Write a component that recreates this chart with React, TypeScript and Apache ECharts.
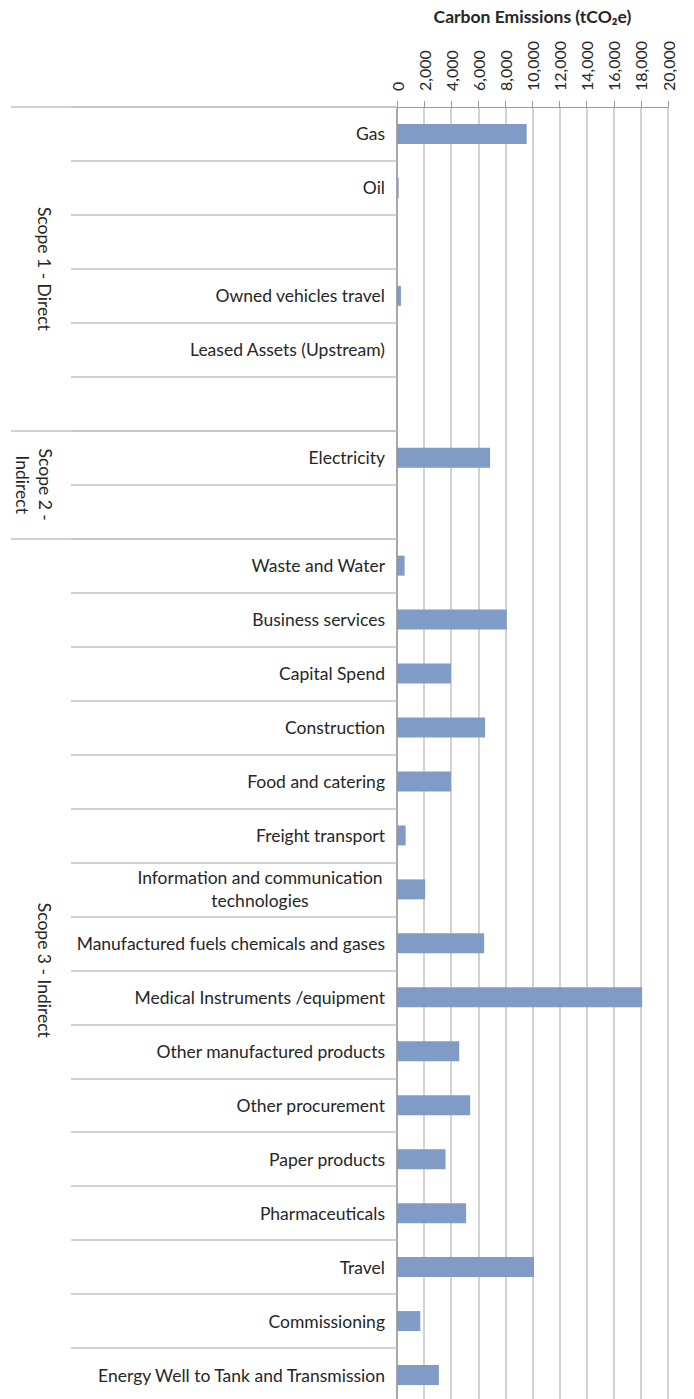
import React, { useEffect, useRef } from "react";
import * as echarts from "echarts";

const categories: string[] = [
  "Gas",
  "Oil",
  "",
  "Owned vehicles travel",
  "Leased Assets (Upstream)",
  "",
  "Electricity",
  "",
  "Waste and Water",
  "Business services",
  "Capital Spend",
  "Construction",
  "Food and catering",
  "Freight transport",
  "Information and communication\ntechnologies",
  "Manufactured fuels chemicals and gases",
  "Medical Instruments /equipment",
  "Other manufactured products",
  "Other procurement",
  "Paper products",
  "Pharmaceuticals",
  "Travel",
  "Commissioning",
  "Energy Well to Tank and Transmission",
];

const emissions: (number | null)[] = [
  9570, 120, null, 290, null, null, 6870, null, 560, 8100, 3980, 6500, 3980,
  640, 2080, 6430, 18090, 4590, 5400, 3580, 5100, 10110, 1720, 3090,
];

const groupNames: string[] = ["Scope 1 - Direct", "Scope 2 -\nIndirect", "Scope 3 - Indirect"];
const groupStarts: number[] = [0, 6, 8];
const groupSizes: number[] = [6, 2, 16];

const xTicks = { min: 0, max: 20000, interval: 2000 };
const axisTitle = "Carbon Emissions (tCO\u2082e)";

const FONT = "Lato, 'Open Sans', sans-serif";
const TEXT = "#262626";
const GRID = "#c3c3c3";
const AXIS = "#9a9a9a";
const FS = 17.5;

export default function App() {
  const ref = useRef<HTMLDivElement>(null);
  useEffect(() => {
    if (!ref.current) return;
    const chart = echarts.init(ref.current, undefined, { renderer: "svg" });
    const fmt = (v: number) => v.toLocaleString("en-US");
    chart.setOption({
      animation: false,
      grid: {
        left: 397,
        top: 107,
        width: 271,
        height: 1295,
        containLabel: false,
        outerBoundsMode: "none",
      },
      xAxis: {
        type: "value",
        position: "top",
        min: xTicks.min,
        max: xTicks.max,
        interval: xTicks.interval,
        name: axisTitle,
        nameLocation: "middle",
        nameGap: 82,
        nameTextStyle: { fontFamily: FONT, fontWeight: "bold", fontSize: 17.5, color: TEXT },
        axisLine: { show: true, lineStyle: { color: AXIS, width: 1 } },
        axisTick: { show: true, length: 6, lineStyle: { color: AXIS } },
        axisLabel: {
          rotate: -90,
          margin: 16,
          fontFamily: FONT,
          fontSize: 16,
          color: TEXT,
          formatter: (v: number) => fmt(v),
        },
        splitLine: { show: true, lineStyle: { color: GRID, width: 1.5 } },
      },
      yAxis: [
        {
          type: "category",
          inverse: true,
          data: categories,
          axisLine: { show: true, lineStyle: { color: AXIS, width: 1.5 } },
          axisTick: { show: true, length: 326, lineStyle: { color: GRID, width: 1.5 } },
          axisLabel: {
            interval: 0,
            margin: 12,
            fontFamily: FONT,
            fontSize: FS,
            color: TEXT,
            lineHeight: 23,
            formatter: (v: string) =>
              v.includes("\n")
                ? v
                    .split("\n")
                    .map((s) => "{c|" + s + "}")
                    .join("\n")
                : v,
            rich: {
              c: {
                width: 250,
                align: "center",
                fontFamily: FONT,
                fontSize: FS,
                color: TEXT,
                lineHeight: 23,
              },
            },
          },
          splitLine: { show: false },
        },
        {
          type: "category",
          inverse: true,
          data: categories,
          position: "left",
          axisLine: { show: false },
          axisLabel: { show: false },
          axisTick: {
            show: true,
            length: 386,
            interval: (i: number) => groupStarts.includes(i),
            lineStyle: { color: GRID, width: 1.5 },
          },
          splitLine: { show: false },
        },
      ],
      series: [
        {
          type: "bar",
          data: emissions,
          barWidth: "37%",
          itemStyle: { color: "#7f9bc6" },
          yAxisIndex: 0,
        },
      ],
    });

    const graphics = groupNames.map((name, g) => {
      const first = chart.convertToPixel({ yAxisIndex: 0 }, groupStarts[g]) as number;
      const last = chart.convertToPixel(
        { yAxisIndex: 0 },
        groupStarts[g] + groupSizes[g] - 1
      ) as number;
      const cy = (first + last) / 2;
      const twoLine = name.includes("\n");
      return {
        type: "text",
        x: twoLine ? 34 : 44,
        y: cy,
        rotation: -Math.PI / 2,
        style: {
          text: name,
          fontFamily: FONT,
          fontSize: FS,
          fill: TEXT,
          align: "center",
          verticalAlign: "middle",
          lineHeight: 23,
        },
      };
    });
    chart.setOption({ graphic: graphics });

    return () => chart.dispose();
  }, []);
  return (
    <div
      ref={ref}
      style={{ position: "absolute", left: 0, top: 0, width: 694, height: 1399 }}
    />
  );
}
